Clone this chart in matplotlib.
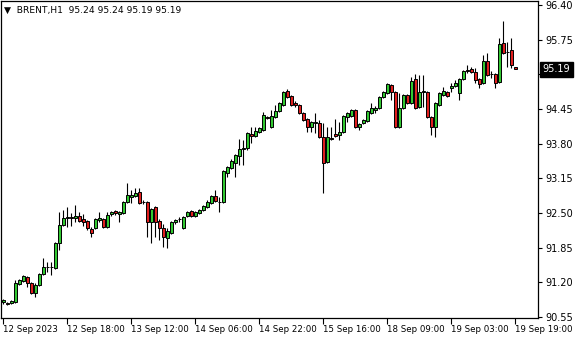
import numpy as np
import matplotlib
matplotlib.use("Agg")
import matplotlib.pyplot as plt

# BRENT H1 candles (129 bars)
opens = [90.83, 90.81, 90.81, 90.83, 91.16, 91.22, 91.30, 91.18, 91.00, 91.15,
         91.35, 91.48, 91.49, 91.47, 91.93, 92.28, 92.41, 92.42, 92.41, 92.44,
         92.39, 92.35, 92.20, 92.22, 92.37, 92.39, 92.24, 92.48, 92.54, 92.48,
         92.50, 92.70, 92.80, 92.82, 92.89, 92.70, 92.70, 92.33, 92.61, 92.35,
         92.22, 92.03, 92.12, 92.32, 92.38, 92.22, 92.44, 92.54, 92.44, 92.50,
         92.55, 92.61, 92.69, 92.82, 92.70, 92.70, 93.25, 93.34, 93.44, 93.57,
         93.70, 93.72, 93.98, 93.94, 94.02, 94.06, 94.30, 94.11, 94.30, 94.41,
         94.52, 94.79, 94.69, 94.56, 94.52, 94.37, 94.26, 94.11, 94.19, 94.19,
         93.92, 93.45, 93.90, 93.98, 93.96, 94.02, 94.30, 94.32, 94.43, 94.11,
         94.19, 94.22, 94.37, 94.43, 94.47, 94.67, 94.75, 94.90, 94.77, 94.11,
         94.47, 94.71, 94.56, 95.01, 94.49, 94.77, 94.77, 94.30, 94.11, 94.52,
         94.71, 94.77, 94.84, 94.88, 94.75, 95.01, 95.18, 95.20, 95.14, 95.01,
         94.94, 95.35, 95.11, 95.11, 94.96, 95.69, 95.52, 95.56, 95.24]
highs = [90.89, 90.83, 90.87, 91.24, 91.26, 91.33, 91.32, 91.20, 91.18, 91.37,
         91.65, 91.58, 91.58, 91.95, 92.52, 92.55, 92.61, 92.50, 92.65, 92.52,
         92.48, 92.37, 92.24, 92.41, 92.52, 92.41, 92.52, 92.54, 92.55, 92.54,
         92.72, 93.06, 92.93, 92.97, 92.97, 92.74, 92.72, 92.59, 92.63, 92.39,
         92.30, 92.22, 92.35, 92.39, 92.43, 92.44, 92.54, 92.55, 92.54, 92.57,
         92.65, 92.74, 92.84, 92.93, 92.80, 93.30, 93.38, 93.51, 93.60, 93.89,
         93.87, 94.02, 94.11, 94.11, 94.11, 94.39, 94.32, 94.43, 94.52, 94.58,
         94.79, 94.82, 94.71, 94.60, 94.54, 94.39, 94.28, 94.22, 94.37, 94.24,
         94.19, 94.11, 94.11, 94.26, 94.21, 94.34, 94.39, 94.45, 94.45, 94.19,
         94.26, 94.43, 94.56, 94.51, 94.69, 94.79, 94.94, 94.92, 94.79, 94.75,
         94.73, 94.73, 95.05, 95.11, 95.09, 95.09, 94.79, 94.32, 94.58, 94.77,
         94.86, 94.79, 94.94, 94.99, 95.03, 95.18, 95.27, 95.24, 95.22, 95.03,
         95.46, 95.50, 95.16, 95.12, 95.78, 96.10, 95.71, 95.78, 95.24]
lows = [90.79, 90.77, 90.79, 90.81, 91.15, 91.20, 91.11, 90.98, 90.92, 91.13,
        91.34, 91.39, 91.33, 91.45, 91.80, 92.26, 92.24, 92.26, 92.32, 92.32,
        92.26, 92.18, 92.05, 92.20, 92.33, 92.22, 92.22, 92.44, 92.46, 92.32,
        92.48, 92.69, 92.69, 92.80, 92.67, 92.67, 92.05, 91.93, 92.05, 91.99,
        91.86, 91.84, 92.10, 92.30, 92.33, 92.20, 92.43, 92.43, 92.43, 92.48,
        92.54, 92.59, 92.67, 92.70, 92.52, 92.69, 93.17, 93.32, 93.17, 93.40,
        93.40, 93.68, 93.81, 93.92, 94.00, 94.04, 94.26, 94.09, 94.28, 94.39,
        94.51, 94.66, 94.51, 94.49, 94.36, 94.22, 94.02, 94.02, 94.00, 93.90,
        92.87, 93.44, 93.87, 93.92, 93.87, 94.00, 94.21, 94.30, 94.09, 94.06,
        94.17, 94.21, 94.36, 94.37, 94.45, 94.66, 94.73, 94.62, 94.09, 94.09,
        94.45, 94.54, 94.54, 94.45, 94.47, 94.49, 94.28, 93.96, 93.92, 94.51,
        94.69, 94.67, 94.77, 94.86, 94.62, 94.99, 95.12, 95.12, 94.94, 94.84,
        94.92, 95.07, 95.03, 94.84, 94.94, 95.48, 95.24, 95.22, 95.19]
closes = [90.87, 90.80, 90.85, 91.18, 91.24, 91.32, 91.18, 91.00, 91.15, 91.35,
          91.48, 91.49, 91.48, 91.93, 92.28, 92.41, 92.42, 92.41, 92.44, 92.35,
          92.33, 92.22, 92.12, 92.39, 92.41, 92.24, 92.46, 92.52, 92.50, 92.52,
          92.70, 92.84, 92.84, 92.87, 92.69, 92.70, 92.32, 92.57, 92.33, 92.22,
          92.05, 92.16, 92.33, 92.37, 92.39, 92.43, 92.52, 92.44, 92.52, 92.55,
          92.63, 92.70, 92.82, 92.72, 92.71, 93.29, 93.36, 93.47, 93.59, 93.70,
          93.72, 94.00, 93.94, 94.04, 94.09, 94.34, 94.28, 94.32, 94.41, 94.56,
          94.77, 94.67, 94.52, 94.52, 94.37, 94.24, 94.11, 94.21, 94.20, 93.92,
          93.44, 93.92, 93.89, 93.94, 94.02, 94.32, 94.37, 94.43, 94.11, 94.17,
          94.24, 94.41, 94.47, 94.47, 94.67, 94.77, 94.92, 94.77, 94.11, 94.47,
          94.71, 94.56, 94.97, 94.47, 94.77, 94.78, 94.30, 94.11, 94.56, 94.75,
          94.79, 94.69, 94.88, 94.94, 95.01, 95.16, 95.17, 95.14, 94.99, 94.92,
          95.35, 95.09, 95.10, 94.94, 95.67, 95.50, 95.51, 95.27, 95.19]

time_ticks = [0, 16, 32, 48, 64, 80, 96, 112, 128]
time_labels = ["12 Sep 2023", "12 Sep 18:00", "13 Sep 12:00", "14 Sep 06:00",
               "14 Sep 22:00", "15 Sep 16:00", "18 Sep 09:00", "19 Sep 03:00",
               "19 Sep 19:00"]
price_ticks = [96.40, 95.75, 95.10, 94.45, 93.80, 93.15, 92.50, 91.85, 91.20, 90.55]

o = np.array(opens)
h = np.array(highs)
l = np.array(lows)
c = np.array(closes)
x = np.arange(len(o))

W, H = 580, 340
fig = plt.figure(figsize=(W / 100, H / 100), dpi=100)
fig.patch.set_facecolor("white")
ax = fig.add_axes([1 / W, (H - 318) / H, 537 / W, 317 / H])

up = c >= o
green = "#32c832"
red = "#e01e1e"

# wicks
ax.vlines(x, l, h, color="black", lw=0.8, zorder=2)
# bodies
body = np.maximum(np.abs(c - o), 0.004)
bottom = np.minimum(o, c)
ax.bar(x[up], body[up], bottom=bottom[up], width=0.75, color=green,
       edgecolor="black", lw=0.7, zorder=3)
ax.bar(x[~up], body[~up], bottom=bottom[~up], width=0.75, color=red,
       edgecolor="black", lw=0.7, zorder=3)

ax.set_xlim(-0.5, 133.75)
ax.set_ylim(90.528, 96.475)

for s in ax.spines.values():
    s.set_color("black")
    s.set_linewidth(0.9)

ax.yaxis.tick_right()
ax.set_yticks(price_ticks)
ax.set_yticklabels(["%.2f" % p for p in price_ticks], fontsize=7)
ax.set_xticks(time_ticks)
ax.set_xticklabels(time_labels, fontsize=6.2, ha="left")
ax.tick_params(axis="y", direction="out", length=3, width=0.8, pad=2)
ax.tick_params(axis="x", direction="out", length=4, width=0.8, pad=1)
ax.tick_params(axis="both", colors="black")

# current price tag (covers the 95.10 label, as in the terminal)
ax.annotate("%.2f" % closes[-1], xy=(1, closes[-1]),
            xycoords=("axes fraction", "data"), xytext=(3.5, 0),
            textcoords="offset points", va="center", ha="left",
            fontsize=7, color="white", zorder=10, annotation_clip=False,
            bbox=dict(boxstyle="square,pad=0.25", fc="black", ec="black"))

ax.text(0.006, 0.985, "\u25bc  BRENT,H1  %.2f %.2f %.2f %.2f" % (opens[-1], highs[-1], lows[-1], closes[-1]),
        transform=ax.transAxes, fontsize=6.6, va="top", ha="left")

fig.savefig("out.png", dpi=100, facecolor="white")
